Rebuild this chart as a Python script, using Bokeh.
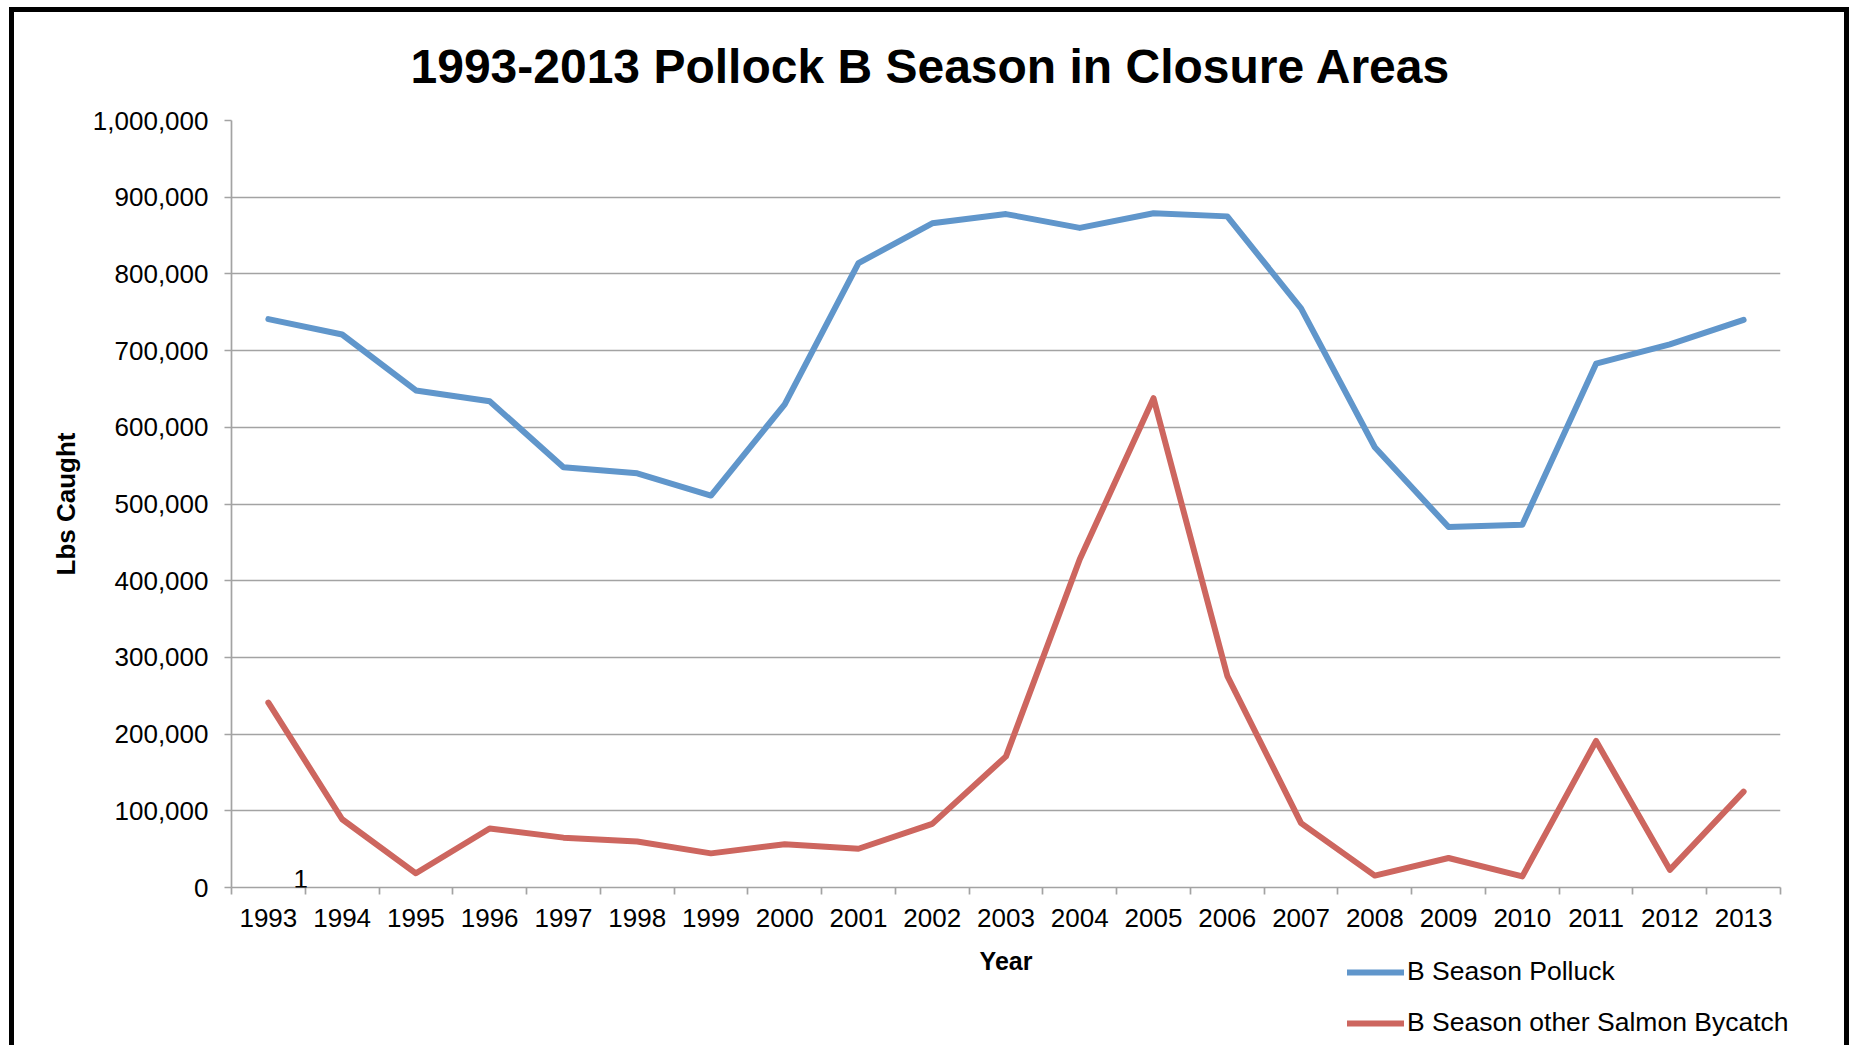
import numpy as np
from bokeh.plotting import figure
from bokeh.layouts import column
from bokeh.models import (Range1d, FixedTicker, NumeralTickFormatter, Legend,
                          LegendItem, Label, Title)
from bokeh.embed import file_html
from bokeh.resources import INLINE

# ---- data -------------------------------------------------------------
years = ["1993", "1994", "1995", "1996", "1997", "1998", "1999", "2000",
         "2001", "2002", "2003", "2004", "2005", "2006", "2007", "2008",
         "2009", "2010", "2011", "2012", "2013"]

pollock_lbs = [741000, 721000, 648000, 634000, 548000, 540000, 511000,
               630000, 814000, 866000, 878000, 860000, 879000, 875000,
               755000, 574000, 470000, 473000, 683000, 708000, 740000]

salmon_bycatch_lbs = [241000, 89000, 18500, 77000, 65000, 60000, 44500,
                      56500, 50500, 83000, 171000, 428000, 638000, 276000,
                      84000, 15500, 38500, 14500, 191000, 23000, 125000]

y_tick_values = [0, 100000, 200000, 300000, 400000, 500000, 600000,
                 700000, 800000, 900000, 1000000]

series_names = ["B Season Polluck", "B Season other Salmon Bycatch"]
title_text = "1993-2013 Pollock B Season in Closure Areas"
x_title = "Year"
y_title = "Lbs Caught"

# ---- styling ----------------------------------------------------------
FONT = "Liberation Sans"
BLUE = "#6096CB"
RED = "#CD665F"
GRID = "#A3A3A3"
LINE_W = 6

W = 1830            # canvas width inside the black frame
H_MAIN = 932        # chart with its axes
H_FOOT = 101        # x-axis title and legend strip

FRAME_L, FRAME_R, FRAME_T, FRAME_B = 217, 1766, 108, 875

# category slots: each year sits in the middle of a unit-wide slot
x_pos = [i + 1 for i in range(len(years))]
slot_edges = [i + 0.5 for i in range(len(years) + 1)]

p = figure(width=W, height=H_MAIN, output_backend="svg", toolbar_location=None,
           x_range=Range1d(0.5, len(years) + 0.5),
           y_range=Range1d(0, 1000000),
           min_border_left=FRAME_L, min_border_right=W - FRAME_R,
           min_border_top=FRAME_T, min_border_bottom=H_MAIN - FRAME_B)
p.background_fill_color = "white"
p.border_fill_color = "white"
p.outline_line_color = None

# gridlines (horizontal only)
p.xgrid.visible = False
p.ygrid.grid_line_color = GRID
p.ygrid.grid_line_width = 1.7

# y axis
p.yaxis.ticker = FixedTicker(ticks=y_tick_values)
p.yaxis.formatter = NumeralTickFormatter(format="0,0")
p.yaxis.axis_line_color = GRID
p.yaxis.axis_line_width = 1.7
p.yaxis.major_tick_line_color = GRID
p.yaxis.major_tick_line_width = 1.7
p.yaxis.major_tick_in = 0
p.yaxis.major_tick_out = 7
p.yaxis.minor_tick_line_color = None
p.yaxis.major_label_text_font = FONT
p.yaxis.major_label_text_font_size = "26px"
p.yaxis.major_label_text_color = "black"
p.yaxis.major_label_standoff = 16
p.yaxis.axis_label = y_title
p.yaxis.axis_label_text_font = FONT
p.yaxis.axis_label_text_font_size = "26px"
p.yaxis.axis_label_text_font_style = "bold"
p.yaxis.axis_label_text_color = "black"
p.yaxis.axis_label_standoff = 9

# x axis: labels in slot centres, tick marks on slot edges
p.xaxis.ticker = FixedTicker(ticks=x_pos, minor_ticks=slot_edges)
p.xaxis.major_label_overrides = {x: y for x, y in zip(x_pos, years)}
p.xaxis.axis_line_color = GRID
p.xaxis.axis_line_width = 1.7
p.xaxis.major_tick_line_color = None
p.xaxis.major_tick_in = 0
p.xaxis.major_tick_out = 0
p.xaxis.minor_tick_line_color = GRID
p.xaxis.minor_tick_line_width = 1.7
p.xaxis.minor_tick_in = 0
p.xaxis.minor_tick_out = 7
p.xaxis.major_label_text_font = FONT
p.xaxis.major_label_text_font_size = "26px"
p.xaxis.major_label_text_color = "black"
p.xaxis.major_label_standoff = 14

# series
p.line(x_pos, pollock_lbs, line_color=BLUE, line_width=LINE_W,
       line_join="round", line_cap="round")
p.line(x_pos, salmon_bycatch_lbs, line_color=RED, line_width=LINE_W,
       line_join="round", line_cap="round")

# stray "1" sitting on the category axis
p.add_layout(Label(x=1.44, y=0, text="1", text_font=FONT,
                   text_font_size="26px", text_align="center",
                   text_baseline="bottom", text_color="black"))

# chart title
p.add_layout(Title(text=title_text, align="left", offset=179,
                   vertical_align="top", standoff=52,
                   text_font=FONT, text_font_size="48px",
                   text_font_style="bold", text_color="black"), "above")

# ---- footer strip: x-axis title and legend (pixel coordinates) ----------
foot = figure(width=W, height=H_FOOT, output_backend="svg",
              toolbar_location=None,
              x_range=Range1d(0, W), y_range=Range1d(0, H_FOOT),
              x_axis_location=None, y_axis_location=None,
              min_border=0)
foot.grid.visible = False
foot.outline_line_color = None
foot.background_fill_color = "white"
foot.border_fill_color = "white"

# let the footer use its full width instead of lining up with the chart frame
foot_x0 = 0
if "frame_align" in foot.properties():
    foot.frame_align = False
else:
    foot_x0 = FRAME_L

foot.add_layout(Label(x=(FRAME_L + FRAME_R) / 2 - foot_x0, y=H_FOOT - 16,
                      text=x_title, text_font=FONT, text_font_size="25px",
                      text_font_style="bold", text_align="center",
                      text_baseline="middle", text_color="black"))

# legend swatches take their style from these (empty-looking) line renderers
no_point = np.array([np.nan])
sw_pollock = foot.line(x=no_point, y=no_point, line_color=BLUE,
                       line_width=LINE_W, line_cap="round")
sw_bycatch = foot.line(x=no_point, y=no_point, line_color=RED,
                       line_width=LINE_W, line_cap="round")

legend = Legend(items=[LegendItem(label=series_names[0], renderers=[sw_pollock]),
                       LegendItem(label=series_names[1], renderers=[sw_bycatch])],
                location=(1333 - foot_x0, 7),
                orientation="vertical",
                glyph_width=57, glyph_height=30, label_height=30,
                spacing=20, padding=0, margin=0, label_standoff=3,
                border_line_alpha=0, background_fill_alpha=0,
                label_text_font=FONT, label_text_font_size="26.5px",
                label_text_color="black")
foot.add_layout(legend)

page = column(p, foot, spacing=0,
              styles={"margin-left": "9px", "margin-top": "7px",
                      "border-top": "5px solid black",
                      "border-left": "5px solid black",
                      "border-right": "5px solid black",
                      "box-sizing": "content-box"})

open("out.html", "w").write(file_html(page, INLINE))
